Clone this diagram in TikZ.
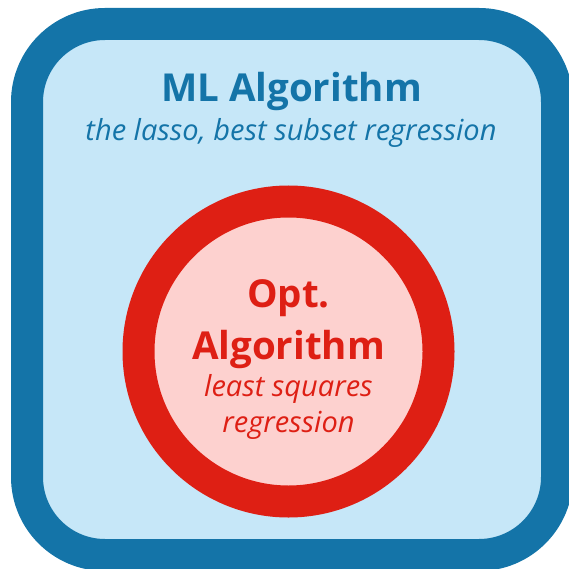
\documentclass[tikz,border=0pt]{standalone}
\usepackage{fontspec}
\setmainfont{Open Sans}
\usepackage{tikz}
\usetikzlibrary{positioning}

\definecolor{mlblue}{HTML}{1474A8}
\definecolor{mlfill}{HTML}{C6E7F8}
\definecolor{optred}{HTML}{DE1F14}
\definecolor{optfill}{HTML}{FDD1CF}

\tikzset{
  title/.style={anchor=base, inner sep=0pt, font=\fontsize{38.5}{38.5}\selectfont\bfseries},
  subtitle/.style={anchor=base, inner sep=0pt, font=\fontsize{29}{29}\selectfont\itshape},
}

\begin{document}
\begin{tikzpicture}[x=1pt, y=-1pt]
  \pgfmathsetmacro{\ring}{32};
  \pgfmathsetmacro{\cx}{288.5};
  \pgfmathsetmacro{\cy}{351.5};

  \useasboundingbox (0,0) rectangle (569,569);

  % outer box
  \draw[mlblue, fill=mlfill, line width=\ring pt, rounded corners=78pt] (27,24) rectangle (557,555);

  \node[title, mlblue] (ml) at (291.5,102) {ML Algorithm};
  \node[subtitle, mlblue] (mlsub) at (291,141) {the lasso, best subset regression};

  % inner circle
  \node[circle, draw=optred, fill=optfill, line width=\ring pt, minimum size=300pt, inner sep=0pt] (opt) at (\cx,\cy) {};

  \node[title, optred] (opt1) at (288.5,307) {Opt.};
  \node[title, optred] (opt2) at (288.5,359) {Algorithm};
  \node[subtitle, optred] (optsub1) at (288.5,396) {least squares};
  \node[subtitle, optred] (optsub2) at (288.5,432) {regression};
\end{tikzpicture}
\end{document}
